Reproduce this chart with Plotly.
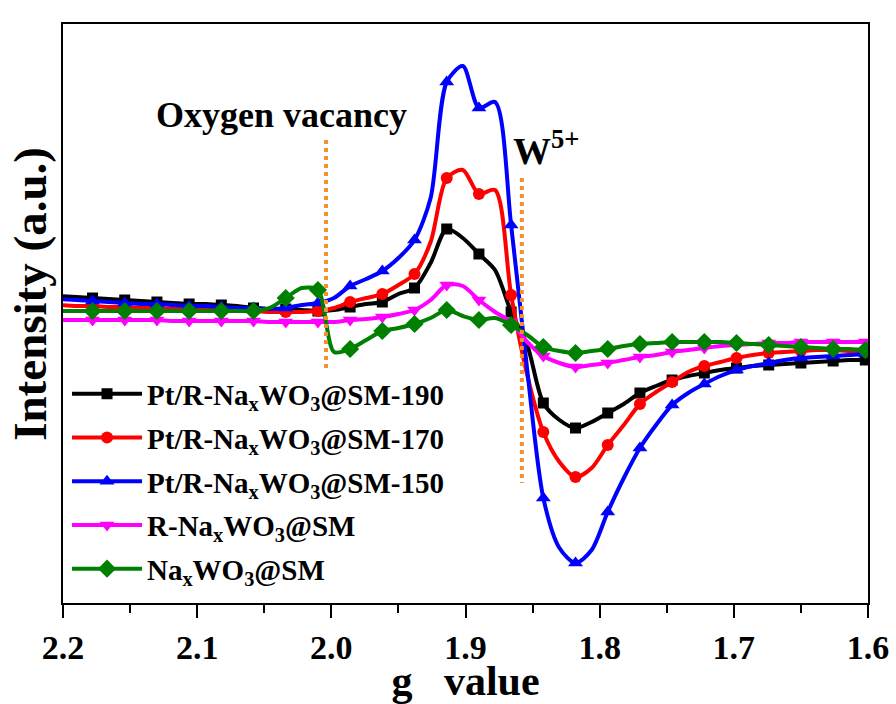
import plotly.graph_objects as go

# g-value grid of the EPR sweep (shared by all samples)
G = [2.202, 2.190, 2.178, 2.166, 2.154, 2.142, 2.130, 2.118, 2.106, 2.094,
     2.082, 2.070, 2.058, 2.046, 2.034, 2.022, 2.010, 1.998, 1.986, 1.974,
     1.962, 1.950, 1.938, 1.926, 1.914, 1.902, 1.890, 1.878, 1.866, 1.854,
     1.842, 1.830, 1.818, 1.806, 1.794, 1.782, 1.770, 1.758, 1.746, 1.734,
     1.722, 1.710, 1.698, 1.686, 1.674, 1.662, 1.650, 1.638, 1.626, 1.614,
     1.602, 1.590]

# EPR intensity (a.u.) of each sample
PT_190 = [34, 33, 32, 31, 30, 29, 28, 27, 26, 26,
          25, 24, 22, 21, 21, 20, 19, 20, 23, 26,
          28, 36, 42, 67, 101, 92, 76, 60, 18, -15,
          -73, -90, -98, -92, -83, -74, -63, -56, -50, -46,
          -43, -40, -38, -36, -35, -34, -33, -32, -31, -30,
          -30, -30]
PT_170 = [25, 24, 24, 23, 23, 22, 22, 21, 21, 20,
          20, 19, 19, 18, 18, 18, 19, 22, 28, 32,
          36, 45, 56, 88, 152, 160, 136, 140, 35, -45,
          -102, -132, -147, -138, -115, -95, -74, -62, -52, -42,
          -36, -32, -28, -25, -23, -22, -21, -20, -20, -21,
          -22, -22]
PT_150 = [31, 30, 29, 28, 27, 26, 26, 25, 24, 24,
          23, 22, 22, 21, 22, 25, 27, 32, 44, 51,
          59, 72, 90, 132, 248, 264, 222, 228, 105, -40,
          -168, -218, -233, -220, -182, -148, -118, -95, -75, -63,
          -54, -46, -40, -36, -33, -30, -28, -27, -26, -25,
          -24, -24]
R_NAWO = [10, 10, 10, 10, 10, 10, 10, 9, 9, 9,
          9, 9, 9, 8, 8, 8, 8, 8, 10, 11,
          13, 16, 20, 30, 45, 44, 30, 18, 8, -12,
          -26, -33, -37, -35, -33, -30, -27, -25, -22, -20,
          -18, -16, -15, -14, -13, -13, -12, -12, -12, -12,
          -12, -12]
NAWO = [19, 19, 19, 19, 19, 19, 19, 19, 19, 19,
        19, 19, 19, 22, 32, 42, 40, -22, -19, -10,
        -1, 2, 6, 12, 20, 14, 10, 12, 5, -5,
        -17, -21, -23, -21, -19, -16, -14, -13, -12, -12,
        -12, -12, -13, -14, -15, -16, -17, -18, -19, -19,
        -20, -20]

LABELS = ["Pt/R-Na<sub>x</sub>WO<sub>3</sub>@SM-190",
          "Pt/R-Na<sub>x</sub>WO<sub>3</sub>@SM-170",
          "Pt/R-Na<sub>x</sub>WO<sub>3</sub>@SM-150",
          "R-Na<sub>x</sub>WO<sub>3</sub>@SM",
          "Na<sub>x</sub>WO<sub>3</sub>@SM"]

# reference g positions of the two paramagnetic centres
OV_G, OV_Y = 2.004, (190, -40)
W5_G, W5_Y = 1.858, (152, -153)

X_TICKS = [2.2, 2.1, 2.0, 1.9, 1.8, 1.7, 1.6]

FONT = "Liberation Serif"
series = [
    (PT_190, "#000000", "square", 11),
    (PT_170, "#FF0000", "circle", 12),
    (PT_150, "#0000FF", "triangle-up", 13),
    (R_NAWO, "#FF00FF", "triangle-down", 13),
    (NAWO, "#008000", "diamond", 14),
]

fig = go.Figure()
for i, ((vals, color, sym, msize), label) in enumerate(zip(series, LABELS)):
    grp = f"s{i}"
    fig.add_trace(go.Scatter(
        x=G, y=vals, mode="lines", legendgroup=grp, showlegend=False,
        line=dict(color=color, width=4, shape="spline", smoothing=0.8),
        hoverinfo="skip"))
    fig.add_trace(go.Scatter(
        x=G[2::2], y=vals[2::2], mode="markers", legendgroup=grp, showlegend=False,
        marker=dict(color=color, symbol=sym, size=msize)))
    fig.add_trace(go.Scatter(
        x=[None], y=[None], mode="lines+markers", name=label, legendgroup=grp,
        line=dict(color=color, width=4),
        marker=dict(color=color, symbol=sym, size=msize)))

for g, (y0, y1) in ((OV_G, OV_Y), (W5_G, W5_Y)):
    fig.add_shape(type="line", xref="x", yref="y", x0=g, x1=g, y0=y0, y1=y1,
                  line=dict(color="#F39030", width=4, dash="dot"))

fig.add_annotation(x=2.037, y=215, xref="x", yref="y", text="Oxygen vacancy",
                   showarrow=False, font=dict(family=FONT, size=36, color="black", weight="bold"))
fig.add_annotation(x=1.866, y=182, xref="x", yref="y", text="W<sup>5+</sup>",
                   xanchor="left", showarrow=False,
                   font=dict(family=FONT, size=38, color="black", weight="bold"))

# vertical axis title
fig.add_annotation(x=-0.041, y=0.534, xref="paper", yref="paper", text="Intensity (a.u.)",
                   textangle=-90, xanchor="center", yanchor="middle", showarrow=False,
                   font=dict(family=FONT, size=47, color="black", weight="bold"))

fig.update_xaxes(
    range=[2.2, 1.6], tickvals=X_TICKS, tickformat=".1f", automargin=False,
    ticks="outside", ticklen=13, tickwidth=1.5, tickcolor="black",
    minor=dict(dtick=0.05, tick0=1.6, ticks="outside", ticklen=8, tickwidth=1.5, tickcolor="black"),
    showline=True, linecolor="black", linewidth=1.5, mirror=True,
    showgrid=False, zeroline=False,
    tickfont=dict(family=FONT, size=34, color="black", weight="bold"),
    title=dict(text="g\u00a0\u00a0 value", standoff=0,
               font=dict(family=FONT, size=42, color="black", weight="bold")))
fig.update_yaxes(
    range=[-273, 306], showticklabels=False, ticks="",
    showline=True, linecolor="black", linewidth=1.5, mirror=True,
    showgrid=False, zeroline=False)

fig.update_layout(
    width=896, height=704,
    margin=dict(l=63, r=28, t=24, b=101),
    paper_bgcolor="white", plot_bgcolor="white",
    font=dict(family=FONT, color="black"),
    legend=dict(x=0.005, y=0.405, xanchor="left", yanchor="top",
                bgcolor="rgba(0,0,0,0)", itemwidth=70, tracegroupgap=3,
                font=dict(family=FONT, size=29, color="black", weight="bold")),
)

fig.write_html("out.html")
